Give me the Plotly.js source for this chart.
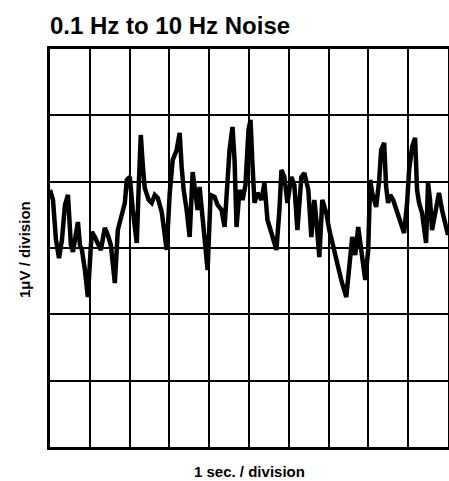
<!DOCTYPE html>
<html>
<head>
<meta charset="utf-8">
<script src="https://cdn.plot.ly/plotly-3.0.1.min.js"></script>
<style>html,body{margin:0;padding:0;background:#fff;}#chart{width:449px;height:481px;}</style>
</head>
<body>
<div id="chart"></div>
<script>
// time in seconds (1 s / division)
var timeSec = [0,0.075,0.15,0.226,0.30,0.376,0.451,0.526,0.576,0.627,0.702,0.752,0.802,0.877,0.952,1.028,1.053,1.128,1.203,1.278,1.378,1.454,1.529,1.629,1.704,1.779,1.880,1.930,2.005,2.080,2.130,2.180,2.231,2.281,2.331,2.381,2.481,2.556,2.632,2.707,2.807,2.882,2.932,3.008,3.083,3.183,3.258,3.308,3.358,3.434,3.509,3.584,3.634,3.709,3.759,3.835,3.910,3.960,4.035,4.135,4.211,4.311,4.386,4.461,4.511,4.586,4.637,4.687,4.762,4.837,4.912,4.987,5.038,5.088,5.138,5.213,5.313,5.388,5.464,5.564,5.689,5.764,5.815,5.890,5.965,6.065,6.140,6.216,6.316,6.391,6.491,6.566,6.642,6.692,6.767,6.842,6.942,7.018,7.093,7.193,7.318,7.444,7.519,7.594,7.669,7.744,7.820,7.920,7.995,8.045,8.095,8.195,8.271,8.321,8.396,8.446,8.496,8.546,8.622,8.722,8.822,8.897,8.972,9.023,9.098,9.173,9.223,9.273,9.348,9.449,9.499,9.549,9.599,9.699,9.774,9.850,9.950,10.0];
// noise in microvolts (1 uV / division)
var noiseUV = [0.875,0.724,0.121,-0.151,0.121,0.649,0.799,0.045,-0.060,0.166,0.392,0.045,-0.030,-0.332,-0.739,0.045,0.241,0.166,0.075,-0.030,0.302,0.196,0.045,-0.528,0.271,0.452,0.679,1.026,1.071,0.573,0.347,0.075,0.950,1.704,1.252,0.905,0.724,0.679,0.799,0.754,0.543,0.196,-0.030,0.830,1.327,1.478,1.735,1.222,0.875,0.573,0.166,1.146,0.950,0.573,0.920,0.468,0.045,-0.332,0.799,0.769,0.649,0.573,0.317,1.071,1.478,1.825,1.327,0.317,0.875,0.724,0.950,1.780,1.931,1.252,0.679,0.830,0.724,0.980,0.422,0.226,-0.030,0.573,1.176,1.071,0.679,1.071,0.950,0.271,1.071,1.131,0.875,0.166,0.724,0.422,-0.136,0.724,0.528,0.271,0.075,-0.181,-0.483,-0.739,-0.181,0.166,-0.106,0.317,-0.030,-0.483,-0.030,1.026,0.830,0.618,1.026,1.478,1.584,0.920,0.679,0.799,0.724,0.528,0.377,0.226,0.679,1.176,1.523,1.659,0.875,0.679,0.528,0.075,0.980,0.724,0.271,0.618,0.830,0.573,0.271,0.196];

var titleText = "0.1 Hz to 10 Hz Noise";
var xLabel = "1 sec. / division";
var yLabel = "1\u03bcV / division";

var trace = {
  x: timeSec, y: noiseUV, type: 'scatter', mode: 'lines',
  line: {color: '#000', width: 4.5, shape: 'linear'},
  hoverinfo: 'skip'
};

var labelFont = "'Liberation Sans', Arial, sans-serif";

var layout = {
  width: 449, height: 481,
  margin: {l: 50, r: 1, t: 49, b: 34},
  paper_bgcolor: '#fff', plot_bgcolor: '#fff',
  showlegend: false,
  title: {
    text: '<b>' + titleText + '</b>',
    x: 0, xref: 'paper', xanchor: 'left',
    y: 0.946, yref: 'container', yanchor: 'middle',
    font: {family: "'Liberation Sans', Arial, sans-serif", size: 24, color: '#000'}
  },
  xaxis: {
    range: [0, 10], dtick: 1, tick0: 0,
    showgrid: true, gridcolor: '#000', gridwidth: 2,
    showline: true, linecolor: '#000', linewidth: 3, mirror: true,
    zeroline: false, showticklabels: false, ticks: '', fixedrange: true
  },
  yaxis: {
    range: [-3, 3], dtick: 1, tick0: 0,
    showgrid: true, gridcolor: '#000', gridwidth: 2,
    showline: true, linecolor: '#000', linewidth: 3, mirror: true,
    zeroline: false, showticklabels: false, ticks: '', fixedrange: true
  },
  annotations: [
    {text: '<b>' + xLabel + '</b>', xref: 'paper', yref: 'paper', x: 0.5, y: 0,
     xanchor: 'center', yanchor: 'middle', yshift: -24, showarrow: false,
     font: {family: labelFont, size: 15, color: '#000'}},
    {text: '<b>' + yLabel + '</b>', xref: 'paper', yref: 'paper', x: 0, y: 0.5,
     xanchor: 'center', yanchor: 'middle', xshift: -26, yshift: -2, textangle: -90, showarrow: false,
     font: {family: labelFont, size: 15, color: '#000'}}
  ]
};

Plotly.newPlot('chart', [trace], layout, {displayModeBar: false, staticPlot: true});
</script>
</body>
</html>
